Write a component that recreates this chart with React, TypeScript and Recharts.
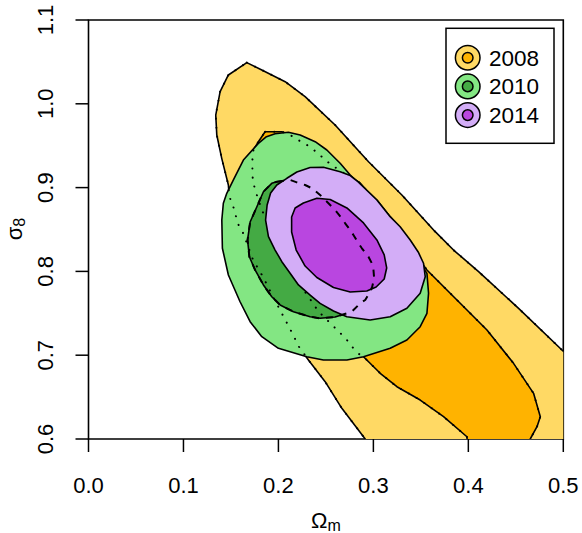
import { ScatterChart, Scatter, XAxis, YAxis, ReferenceArea, Legend } from "recharts";

// axis ticks
const omegaTicks = [0, 0.1, 0.2, 0.3, 0.4, 0.5];
const sigmaTicks = [0.6, 0.7, 0.8, 0.9, 1.0, 1.1];
const legendYears = ["2008", "2010", "2014"];

// contours as [Omega_m, sigma_8]
const outer2008 = [
  [0.1667, 1.0491], [0.1825, 1.0403], [0.2071, 1.0264], [0.2281, 1.0085],
  [0.2597, 0.9747], [0.2949, 0.9309], [0.33, 0.8912], [0.3651, 0.8474],
  [0.3844, 0.8255], [0.4108, 0.7997], [0.4529, 0.7559], [0.4986, 0.7062],
  [0.52, 0.683], [0.52, 0.58], [0.29, 0.58], [0.2914, 0.6],
  [0.2668, 0.6366], [0.2492, 0.6684], [0.2316, 0.6943], [0.2218, 0.7098],
  [0.2123, 0.7313], [0.2028, 0.7516], [0.1934, 0.7718], [0.1839, 0.7933],
  [0.1733, 0.8136], [0.1628, 0.8458], [0.1575, 0.8566], [0.1523, 0.878],
  [0.1481, 0.89], [0.1473, 0.9031], [0.1403, 0.9349], [0.1351, 0.9628],
  [0.134, 0.9866], [0.1386, 1.0145], [0.1473, 1.0344],
];

const inner2008 = [
  [0.186, 0.9667], [0.2036, 0.9667], [0.2123, 0.9628], [0.2207, 0.9568],
  [0.2302, 0.9508], [0.2386, 0.9437], [0.246, 0.9365], [0.2545, 0.9282],
  [0.2703, 0.9162], [0.2861, 0.9055], [0.2987, 0.8888], [0.3093, 0.8757],
  [0.3209, 0.8589], [0.3335, 0.8399], [0.344, 0.8208], [0.3564, 0.8017],
  [0.388, 0.7659], [0.4196, 0.7301], [0.4476, 0.6903], [0.4687, 0.6545],
  [0.4758, 0.6266], [0.4723, 0.6147], [0.4652, 0.6], [0.462, 0.58],
  [0.4, 0.58], [0.3985, 0.6027], [0.3739, 0.6266], [0.3493, 0.6465],
  [0.3248, 0.6624], [0.3072, 0.6784], [0.2896, 0.6982], [0.285, 0.7014],
  [0.2777, 0.7098], [0.2713, 0.7193], [0.264, 0.7277], [0.2566, 0.736],
  [0.2418, 0.7527], [0.2355, 0.7635], [0.2229, 0.7838], [0.2123, 0.8041],
  [0.2018, 0.8255], [0.1913, 0.8494], [0.1818, 0.8757], [0.1755, 0.8971],
  [0.173, 0.9091], [0.1726, 0.921], [0.1726, 0.9329], [0.1737, 0.9449],
  [0.1789, 0.9548],
];

const outer2010 = [
  [0.1874, 0.9608], [0.1965, 0.9643], [0.2105, 0.9661], [0.2229, 0.9628],
  [0.2387, 0.9548], [0.251, 0.9449], [0.265, 0.929], [0.2756, 0.915],
  [0.2861, 0.9043], [0.3037, 0.8852], [0.3177, 0.8653], [0.3314, 0.847],
  [0.342, 0.8279], [0.3493, 0.8097], [0.3564, 0.7977], [0.3581, 0.7739],
  [0.3564, 0.75], [0.3493, 0.734], [0.3353, 0.7181], [0.3177, 0.7082],
  [0.2896, 0.6982], [0.2721, 0.6943], [0.2474, 0.6943], [0.2299, 0.6982],
  [0.2, 0.7082], [0.1825, 0.7221], [0.1702, 0.74], [0.1596, 0.7638],
  [0.1473, 0.7957], [0.141, 0.8276], [0.1404, 0.8613], [0.142, 0.8813],
  [0.1456, 0.8932], [0.1526, 0.9091], [0.1631, 0.9329], [0.1786, 0.9524],
];

const inner2010 = [
  [0.1983, 0.907], [0.2123, 0.9091], [0.2194, 0.9063], [0.2281, 0.9031],
  [0.2352, 0.8992], [0.2439, 0.8912], [0.2545, 0.8792], [0.2597, 0.8733],
  [0.2668, 0.8634], [0.2703, 0.8574], [0.2756, 0.8494], [0.279, 0.8434],
  [0.2843, 0.8335], [0.2879, 0.8276], [0.2948, 0.8175], [0.2984, 0.8097],
  [0.3001, 0.8017], [0.3008, 0.7918], [0.2987, 0.7814], [0.2966, 0.7758],
  [0.2914, 0.7659], [0.2861, 0.7619], [0.2773, 0.7519], [0.2721, 0.75],
  [0.2597, 0.7456], [0.2439, 0.744], [0.2334, 0.7459], [0.2158, 0.7519],
  [0.2018, 0.7599], [0.193, 0.7698], [0.1842, 0.7838], [0.1754, 0.8017],
  [0.1694, 0.8175], [0.1675, 0.8375], [0.1702, 0.8589], [0.1772, 0.8768],
  [0.1842, 0.8951], [0.193, 0.9051],
];

const outer2014 = [
  [0.1983, 0.9031], [0.2089, 0.9111], [0.2194, 0.9186], [0.2334, 0.924],
  [0.2474, 0.9242], [0.265, 0.919], [0.2756, 0.9144], [0.284, 0.9067],
  [0.3037, 0.8852], [0.3177, 0.8653], [0.3282, 0.8533], [0.3388, 0.8375],
  [0.3472, 0.8232], [0.3528, 0.8097], [0.3546, 0.7937], [0.3493, 0.7739],
  [0.3353, 0.756], [0.3177, 0.7459], [0.2966, 0.742], [0.2721, 0.7459],
  [0.258, 0.7527], [0.2439, 0.7619], [0.2334, 0.7718], [0.2211, 0.7838],
  [0.2123, 0.7977], [0.2036, 0.8116], [0.1965, 0.8255], [0.1895, 0.8414],
  [0.1865, 0.8613], [0.1881, 0.8792], [0.1918, 0.8936],
];

const inner2014 = [
  [0.2263, 0.8816], [0.2405, 0.8872], [0.2545, 0.8858], [0.2721, 0.8757],
  [0.2896, 0.8578], [0.3037, 0.8375], [0.3114, 0.8196], [0.314, 0.8041],
  [0.3114, 0.7909], [0.3029, 0.7814], [0.2931, 0.7766], [0.2756, 0.7754],
  [0.258, 0.7808], [0.2405, 0.7927], [0.2281, 0.8064], [0.2187, 0.8255],
  [0.2139, 0.847], [0.2139, 0.8649], [0.2176, 0.8757],
];

const outerColors = ["#FFD964", "#83E683", "#D3ADF7"];
const innerColors = ["#FFB300", "#44AA44", "#B946E0"];

const font = "'Liberation Sans', Arial, sans-serif";

const toPts = (arr: number[][]) => arr.map(([x, y]) => ({ x, y }));

// drawing order matters: R overplots the later years on top
const layers = [
  { pts: outer2008, fill: outerColors[0] },
  { pts: inner2008, fill: innerColors[0] },
  { pts: outer2010, fill: outerColors[1] },
  { pts: inner2010, fill: innerColors[1] },
  { pts: outer2008, fill: "none", dash: "0.1 9" },
  { pts: inner2008, fill: "none", dash: "0.1 9" },
  { pts: outer2014, fill: outerColors[2] },
  { pts: inner2014, fill: innerColors[2] },
  { pts: inner2010, fill: "none", dash: "7 7" },
];

const noDot = () => <g />;

function XTick({ x, payload }: any) {
  return (
    <text x={x} y={493} textAnchor="middle" fontSize={22} fontFamily={font} fill="#000">
      {payload.value.toFixed(1)}
    </text>
  );
}

function YTick({ y, payload }: any) {
  return (
    <text
      transform={`translate(53, ${y}) rotate(-90)`}
      textAnchor="middle"
      fontSize={22}
      fontFamily={font}
      fill="#000"
    >
      {payload.value.toFixed(1)}
    </text>
  );
}

function XTitle() {
  return (
    <text x={326} y={528} textAnchor="middle" fontSize={22} fontFamily={font} fill="#000">
      Ω<tspan fontSize={16} dy={3}>m</tspan>
    </text>
  );
}

function YTitle() {
  return (
    <text
      transform="translate(22, 229) rotate(-90)"
      textAnchor="middle"
      fontSize={22}
      fontFamily={font}
      fill="#000"
    >
      σ<tspan fontSize={16} dy={3}>8</tspan>
    </text>
  );
}

function LegendBox() {
  return (
    <svg width={110} height={118} style={{ display: "block" }}>
      <rect x={1} y={1.3} width={108} height={115} fill="#fff" stroke="#000" strokeWidth={1.5} />
      {legendYears.map((yr, i) => {
        const cy = 30.7 + i * 28.7;
        return (
          <g key={yr}>
            <circle cx={22.7} cy={cy} r={12.3} fill={outerColors[i]} stroke="#000" strokeWidth={1.5} />
            <circle cx={22.7} cy={cy} r={5.3} fill={innerColors[i]} stroke="#000" strokeWidth={1.5} />
            <text x={44} y={cy + 8} fontSize={22.5} fontFamily={font} fill="#000">
              {yr}
            </text>
          </g>
        );
      })}
    </svg>
  );
}

export default function App() {
  return (
    <div style={{ position: "absolute", left: 0, top: 0, background: "#fff" }}>
      <ScatterChart
        width={582}
        height={533}
        margin={{ top: 20, right: 18.7, left: 18.5, bottom: 34 }}
      >
        <XAxis
          type="number"
          dataKey="x"
          domain={[0, 0.5]}
          ticks={omegaTicks}
          interval={0}
          allowDataOverflow
          axisLine={false}
          tickSize={13}
          tickLine={{ stroke: "#000", strokeWidth: 1.5 }}
          tick={<XTick />}
          height={60}
          label={<XTitle />}
        />
        <YAxis
          type="number"
          dataKey="y"
          domain={[0.6, 1.1]}
          ticks={sigmaTicks}
          interval={0}
          allowDataOverflow
          axisLine={false}
          tickSize={13}
          tickLine={{ stroke: "#000", strokeWidth: 1.5 }}
          tick={<YTick />}
          width={70}
          label={<YTitle />}
        />
        {layers.map((l, i) => (
          <Scatter
            key={i}
            data={toPts(l.pts)}
            fill={l.fill}
            shape={noDot}
            legendType="none"
            isAnimationActive={false}
            lineJointType="linearClosed"
            line={{
              fill: l.fill,
              stroke: "#000",
              strokeWidth: l.dash ? 2 : 1.6,
              strokeDasharray: l.dash,
              strokeLinecap: l.dash === "0.1 9" ? "round" : "butt",
              strokeLinejoin: "round",
            }}
          />
        ))}
        <ReferenceArea
          x1={0}
          x2={0.5}
          y1={0.6}
          y2={1.1}
          fill="none"
          stroke="#000"
          strokeWidth={1.6}
        />
        <Legend
          layout="horizontal"
          align="center"
          verticalAlign="middle"
          content={() => <LegendBox />}
          wrapperStyle={{ left: 445, top: 27, width: 110, height: 118 }}
        />
      </ScatterChart>
    </div>
  );
}
